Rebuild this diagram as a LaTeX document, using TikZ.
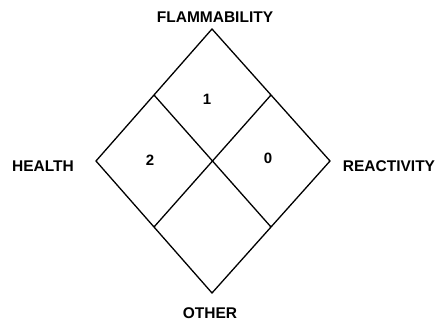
\documentclass[tikz,border=0pt]{standalone}
\usepackage{fontspec}
\setmainfont{Liberation Sans}
\usepackage{tikz}
\usetikzlibrary{calc, positioning}

\begin{document}
\begin{tikzpicture}[x=1pt, y=1pt, line width=1.3pt,
    nhan/.style={font=\fontsize{15.5}{17}\selectfont\bfseries, inner sep=0pt},
    so/.style={font=\fontsize{15}{17}\selectfont\bfseries, inner sep=0pt}]
    \useasboundingbox (0,0) rectangle (436,324);

    % Các đỉnh của hình thoi
    \coordinate (T) at (212,295);
    \coordinate (L) at (96,163);
    \coordinate (R) at (330,163);
    \coordinate (B) at (212,31);

    % Trung điểm các cạnh
    \coordinate (TL) at ($(T)!0.5!(L)$);
    \coordinate (TR) at ($(T)!0.5!(R)$);
    \coordinate (BL) at ($(B)!0.5!(L)$);
    \coordinate (BR) at ($(B)!0.5!(R)$);

    % Vẽ hình thoi và hai đường chia
    \draw (T) -- (R) -- (B) -- (L) -- cycle;
    \draw (TL) -- (BR);
    \draw (TR) -- (BL);

    % Các số
    \node[so] (n1) at (207,225) {1};
    \node[so] (n2) at (150,164) {2};
    \node[so] (n0) at (268,166) {0};

    % Các nhãn
    \node[nhan] (fl) at (215,307) {FLAMMABILITY};
    \node[nhan] (he) at (43,158) {HEALTH};
    \node[nhan] (re) at (389,158) {REACTIVITY};
    \node[nhan] (ot) at (210,11) {OTHER};
\end{tikzpicture}
\end{document}
